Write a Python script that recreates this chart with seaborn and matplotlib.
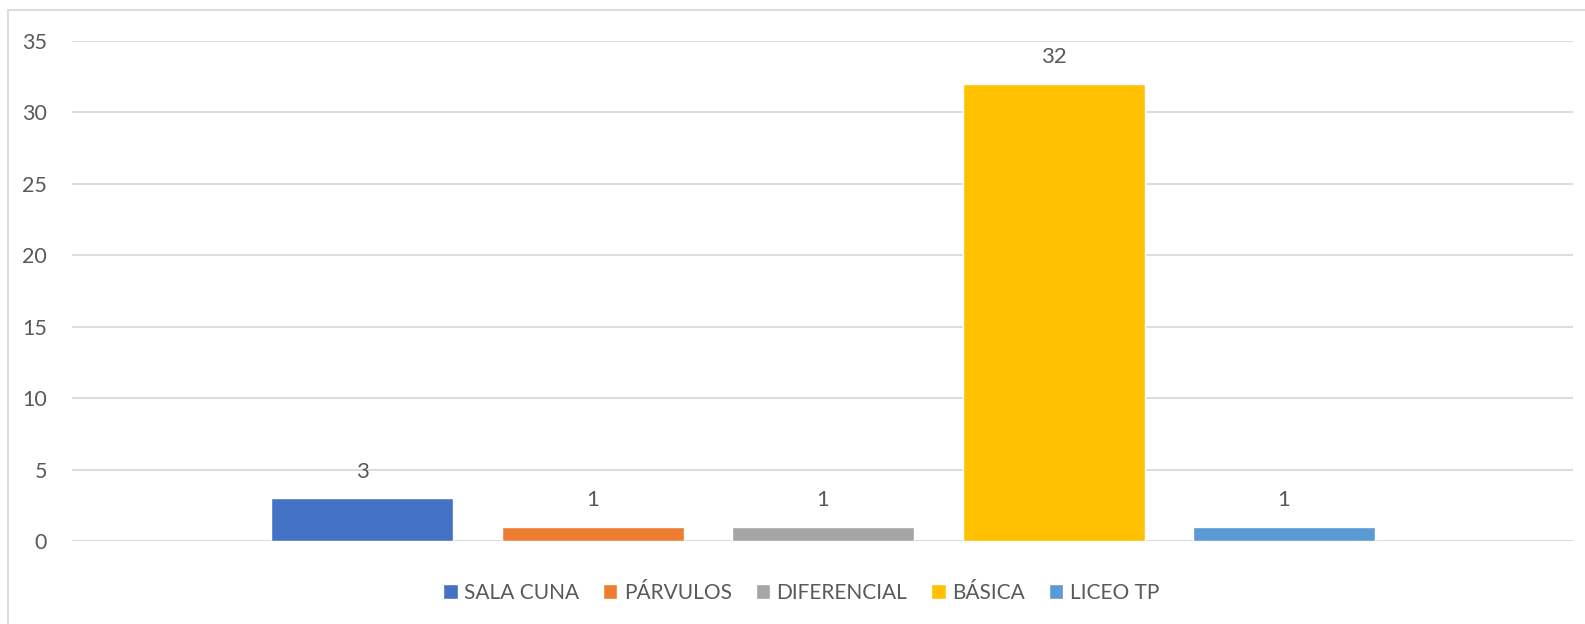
import seaborn as sns
import matplotlib.pyplot as plt
import pandas as pd
from matplotlib.patches import Rectangle

series = ["SALA CUNA", "PÁRVULOS", "DIFERENCIAL", "BÁSICA", "LICEO TP"]
values = [3, 1, 1, 32, 1]
colors = ["#4472C4", "#ED7D31", "#A5A5A5", "#FFC000", "#5B9BD5"]
yticks = [0, 5, 10, 15, 20, 25, 30, 35]

df = pd.DataFrame({"serie": series, "valor": values})

sns.set_style("white")
plt.rcParams['font.family'] = ['Lato', 'DejaVu Sans']
text_color = "#595959"

fig = plt.figure(figsize=(15.85, 6.24), dpi=100)
W, H = 1585, 624
ax = fig.add_axes([72 / W, 1 - 541 / H, (1573 - 72) / W, (541 - 40.7) / H])

step = 230.5
sns.barplot(data=df, x="serie", y="valor", hue="serie", palette=colors,
            order=series, hue_order=series, dodge=False, width=182 / step,
            saturation=1, legend=True, ax=ax)

ax.set_xlim(-(362 - 72) / step, 4 + (1573 - 1284) / step)
ax.set_ylim(0, 35)
ax.set_yticks(yticks)
ax.set_xticks([])
ax.set_xlabel("")
ax.set_ylabel("")
ax.grid(axis="y", color="#D9D9D9", linewidth=1.3)
ax.set_axisbelow(True)
for s in ax.spines.values():
    s.set_visible(False)
ax.tick_params(axis="y", length=0, pad=18, labelsize=15.5, labelcolor=text_color)

for i, v in enumerate(values):
    ax.annotate(str(v), (i, v), xytext=(0, 19), textcoords="offset points",
                ha="center", va="center", fontsize=16, color=text_color)

handles, labels = ax.get_legend_handles_labels()
ax.legend_.remove()
fig.legend(handles, labels, loc="center", bbox_to_anchor=(801 / W, 1 - 593 / H),
           ncol=5, frameon=False, fontsize=15, labelcolor=text_color,
           handlelength=0.7, handleheight=0.7, handletextpad=0.3,
           columnspacing=1.15)

fig.patches.append(Rectangle((8 / W, -0.1), 1.2, 1 - 10 / H + 0.1,
                             transform=fig.transFigure, fill=False,
                             edgecolor="#D9D9D9", linewidth=1.3))

fig.savefig("out.png", dpi=100)
